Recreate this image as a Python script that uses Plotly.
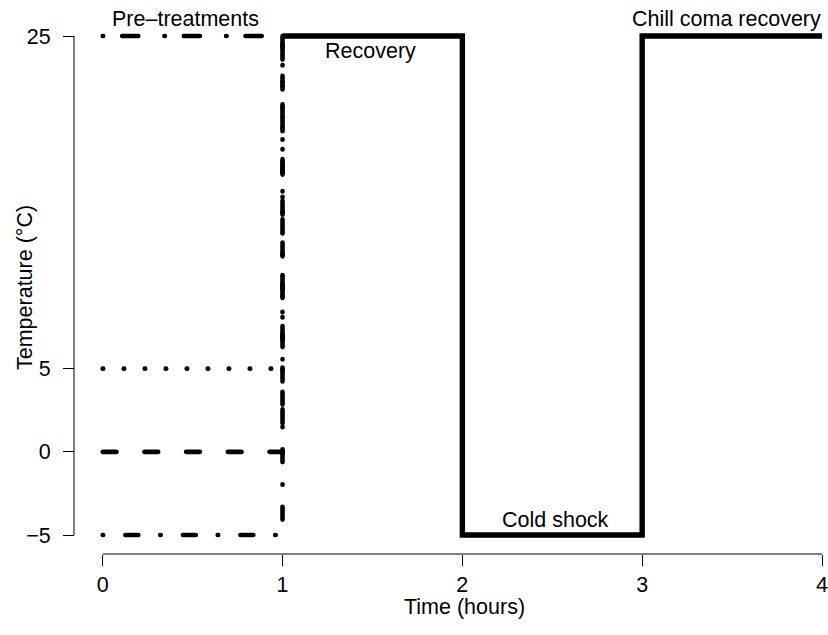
import plotly.graph_objects as go

# ---------------- data ----------------
time_main = [1, 2, 2, 3, 3, 4]
temp_main = [25, 25, -5, -5, 25, 25]

pre_levels = [25, 5, 0, -5]          # pre-treatment temperatures
pre_time = [0, 1, 1]                 # pre-treatment time, then step up at t=1
recovery_temp = 25

x_ticks = [0, 1, 2, 3, 4]
y_ticks = [-5, 0, 5, 25]

label_text = ["Pre\u2013treatments", "Recovery", "Cold shock", "Chill coma recovery"]
label_x = [0.46, 1.49, 2.52, 3.47]
label_y = [26.0, 24.1, -4.1, 26.0]

# ---------------- styles ----------------
pre_dash = {
    25: "0.5px,18.9px,16.2px,26.1px",
    5: "0.5px,20.5px",
    0: "13.8px,27.9px",
    -5: "0.5px,22.2px,12.9px,21.9px",
}

W, H = 828, 635
ML, MR, MT, MB = 74, 0, 10, 81
plot_w = W - ML - MR
plot_h = H - MT - MB

# pixel targets for tick extents
px_x0, px_x4 = 102.7, 822.0
px_y25, px_ym5 = 36.0, 535.0

sx = (px_x4 - px_x0) / (x_ticks[-1] - x_ticks[0])
x_min = x_ticks[0] - (px_x0 - ML) / sx
x_max = x_ticks[-1] + (W - MR - px_x4) / sx
sy = (px_ym5 - px_y25) / (max(y_ticks) - min(y_ticks))
y_max = max(y_ticks) + (px_y25 - MT) / sy
y_min = min(y_ticks) - (H - MB - px_ym5) / sy


def paper_x(px):
    return (px - ML) / plot_w


def paper_y(py):
    return (H - MB - py) / plot_h


FONT = "Liberation Sans, Arial, Helvetica, sans-serif"
FS = 21.5

fig = go.Figure()

for lvl in pre_levels:
    fig.add_trace(go.Scatter(
        x=pre_time, y=[lvl, lvl, recovery_temp], mode="lines",
        line=dict(color="black", width=4.6, dash=pre_dash[lvl]),
        hoverinfo="skip", showlegend=False,
    ))

fig.add_trace(go.Scatter(
    x=time_main, y=temp_main, mode="lines",
    line=dict(color="black", width=5.4),
    hoverinfo="skip", showlegend=False,
))

for t, xx, yy in zip(label_text, label_x, label_y):
    fig.add_annotation(x=xx, y=yy, xref="x", yref="y", text=t, showarrow=False,
                       xanchor="center", yanchor="middle",
                       font=dict(family=FONT, size=FS, color="black"))

# axis titles
fig.add_annotation(x=paper_x(464), y=paper_y(607), xref="paper", yref="paper",
                   text="Time (hours)", showarrow=False, xanchor="center", yanchor="middle",
                   font=dict(family=FONT, size=FS, color="black"))
fig.add_annotation(x=paper_x(25), y=paper_y(288), xref="paper", yref="paper",
                   text="Temperature (\u00b0C)", showarrow=False, textangle=-90,
                   xanchor="center", yanchor="middle",
                   font=dict(family=FONT, size=FS, color="black"))

# R-style axis spines spanning only the tick range
fig.add_shape(type="line", xref="x", yref="paper", x0=x_ticks[0], x1=x_ticks[-1], y0=0, y1=0,
              line=dict(color="black", width=1))
fig.add_shape(type="line", xref="paper", yref="y", x0=0, x1=0, y0=min(y_ticks), y1=max(y_ticks),
              line=dict(color="black", width=1))

fig.update_layout(
    width=W, height=H,
    margin=dict(l=ML, r=MR, t=MT, b=MB, pad=0),
    paper_bgcolor="white", plot_bgcolor="white",
    font=dict(family=FONT, size=FS, color="black"),
    xaxis=dict(range=[x_min, x_max], domain=[0, 1], anchor="free", position=0,
               showline=False, showgrid=False, zeroline=False,
               tickmode="array", tickvals=x_ticks, ticks="outside", ticklen=11,
               tickwidth=1, tickcolor="black", ticklabeloverflow="allow",
               tickfont=dict(family=FONT, size=FS, color="black")),
    yaxis=dict(range=[y_min, y_max], domain=[0, 1], anchor="free", position=0,
               showline=False, showgrid=False, zeroline=False,
               tickmode="array", tickvals=y_ticks, ticks="outside", ticklen=11,
               tickwidth=1, tickcolor="black", ticklabelstandoff=8,
               ticklabeloverflow="allow",
               tickfont=dict(family=FONT, size=FS, color="black")),
)

post = """
document.querySelectorAll('path.js-line').forEach(function(p){
  var d = p.style.strokeDasharray;
  if (d && d !== 'none') { p.style.strokeLinecap = 'round'; }
});
"""

fig.write_html("out.html", post_script=post)
